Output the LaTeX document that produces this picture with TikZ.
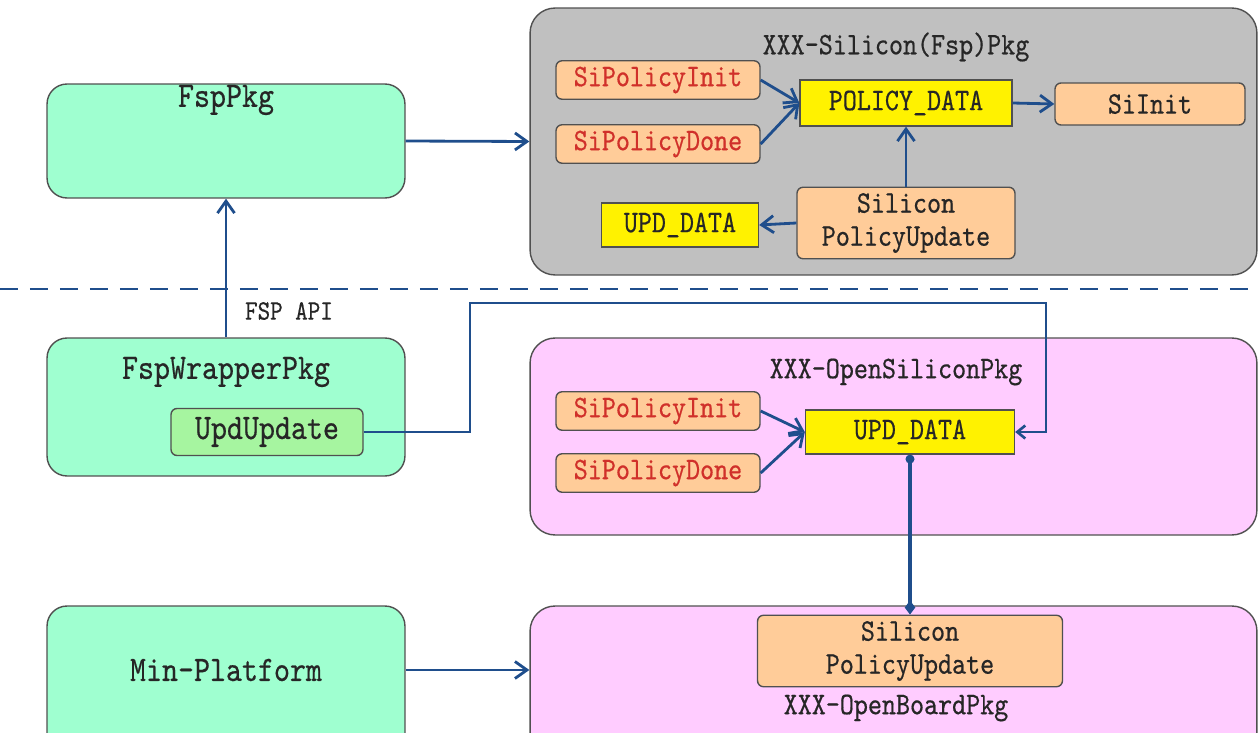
\documentclass[tikz,border=0pt]{standalone}
\usepackage{fontspec}
\setmainfont{lmmono10-regular.otf}[FakeStretch=0.85, FakeBold=0.5]
\usetikzlibrary{positioning, arrows.meta}

\definecolor{mintgreen}{HTML}{9FFFD0}
\definecolor{updgreen}{HTML}{A6F5A0}
\definecolor{peach}{HTML}{FFCC99}
\definecolor{boxgray}{HTML}{C0C0C0}
\definecolor{pinkbg}{HTML}{FFCCFF}
\definecolor{linkblue}{HTML}{1F4E8C}
\definecolor{policyred}{HTML}{D0302A}
\definecolor{edgegray}{HTML}{505050}

\newcommand{\diagfont}{\fontsize{17.9}{18.8}\selectfont}
\newcommand{\diagbigfont}{\fontsize{20.4}{22}\selectfont}
\newcommand{\diagsmallfont}{\fontsize{16}{17}\selectfont}

\begin{document}
\begin{tikzpicture}[x=0.02cm, y=-0.02cm,
    pkg_box/.style={rectangle, rounded corners=0.5cm, draw=edgegray, line width=0.8pt, minimum width=14.54cm},
    host_box/.style={rectangle, rounded corners=0.4cm, draw=edgegray, line width=0.8pt, fill=mintgreen, minimum width=7.16cm},
    step_box/.style={rectangle, rounded corners=0.12cm, draw=edgegray, line width=0.8pt, fill=peach, font=\diagfont, align=center, text=black!85},
    policy_box/.style={step_box, text=policyred, minimum width=4.08cm, minimum height=0.72cm},
    data_box/.style={rectangle, draw=edgegray, line width=0.8pt, fill=yellow, font=\diagfont, text=black!85},
    title/.style={font=\diagfont, text=black!85},
    big_title/.style={font=\diagbigfont, text=black!85},
    link/.style={draw=linkblue, line width=1.6pt, -{Straight Barb[length=2.4mm, width=3.4mm]}}
]

\useasboundingbox (0,0) rectangle (1259,733);

% Host side packages
\node[host_box, minimum height=2.28cm] (fsp_pkg) at (226,141) {};
\node[big_title] (fsp_title) at (226,100) {FspPkg};
\node[host_box, minimum height=2.76cm] (wrapper_pkg) at (226,407) {};
\node[big_title] (wrapper_title) at (226,372) {FspWrapperPkg};
\node[rectangle, rounded corners=0.12cm, draw=edgegray, line width=0.8pt, fill=updgreen, minimum width=3.84cm, minimum height=0.94cm, font=\diagbigfont, text=black!85] (upd_update) at (267,432) {UpdUpdate};
\node[host_box, minimum height=3.08cm] (min_platform) at (226,683) {};
\node[big_title] (min_title) at (226,670) {Min-Platform};

% Silicon (Fsp) package
\node[pkg_box, fill=boxgray, minimum height=5.34cm] (si_pkg) at (893.5,141.5) {};
\node[title] (si_title) at (896,47) {XXX-Silicon(Fsp)Pkg};
\node[policy_box] (si_init) at (658,80) {SiPolicyInit};
\node[policy_box] (si_done) at (658,144) {SiPolicyDone};
\node[data_box, minimum width=4.24cm, minimum height=0.92cm] (policy_data) at (906,103) {POLICY\_DATA};
\node[step_box, minimum width=3.8cm, minimum height=0.84cm] (si_silinit) at (1150,104) {SiInit};
\node[step_box, minimum width=4.36cm, minimum height=1.4cm] (si_update) at (906,223) {Silicon\\PolicyUpdate};
\node[data_box, minimum width=3.14cm, minimum height=0.88cm] (si_upd_data) at (680,225) {UPD\_DATA};

% Open silicon package
\node[pkg_box, fill=pinkbg, minimum height=3.94cm] (os_pkg) at (893.5,436.5) {};
\node[title] (os_title) at (896,372) {XXX-OpenSiliconPkg};
\node[policy_box, minimum height=0.7cm] (os_init) at (658,411) {SiPolicyInit};
\node[policy_box, minimum height=0.7cm] (os_done) at (658,473) {SiPolicyDone};
\node[data_box, minimum width=4.18cm, minimum height=0.88cm] (os_upd_data) at (910,432) {UPD\_DATA};

% Open board package
\node[pkg_box, fill=pinkbg, minimum height=3.08cm] (ob_pkg) at (893.5,683) {};
\node[step_box, minimum width=6.1cm, minimum height=1.38cm] (ob_update) at (910,651) {Silicon\\PolicyUpdate};
\node[title] (ob_title) at (896,708) {XXX-OpenBoardPkg};

% Dashed divider
\coordinate (div_l) at (0,289);
\coordinate (div_r) at (1259,289);
\draw[draw=linkblue, line width=1.6pt, dash pattern=on 0.36cm off 0.24cm] (div_l) -- (div_r);

% Links between packages
\draw[link] (fsp_pkg.east) -- (si_pkg.west);
\draw[link] (wrapper_pkg.north) -- (fsp_pkg.south);
\node[font=\diagsmallfont, text=black!85] (api_label) at (289,311) {FSP API};
\draw[link] (min_platform.east |- min_title) -- (ob_pkg.west |- min_title);

% Links inside the silicon package
\draw[link] (si_init.east) -- (policy_data.west);
\draw[link] (si_done.east) -- (policy_data.west);
\draw[link] (policy_data.east) -- (si_silinit.west);
\draw[link] (si_update.north) -- (policy_data.south);
\draw[link] (si_update.west) -- (si_upd_data.east);

% Links inside the open silicon package
\draw[link] (os_init.east) -- (os_upd_data.west);
\draw[link] (os_done.east) -- (os_upd_data.west);

% Route from UpdUpdate to UPD_DATA
\coordinate (route_a) at (470,303);
\coordinate (route_b) at (1046,303);
\draw[link, line width=1.5pt, -{Straight Barb[length=1.6mm, width=2.6mm]}] (upd_update.east) -| (route_a) -- (route_b) |- (os_upd_data.east);

% UPD_DATA to board policy update
\draw[draw=linkblue, line width=1.8pt, {Circle[length=5pt]}-{Diamond[length=8pt, width=6pt]}] (os_upd_data.south) -- (ob_update.north);

\end{tikzpicture}
\end{document}
